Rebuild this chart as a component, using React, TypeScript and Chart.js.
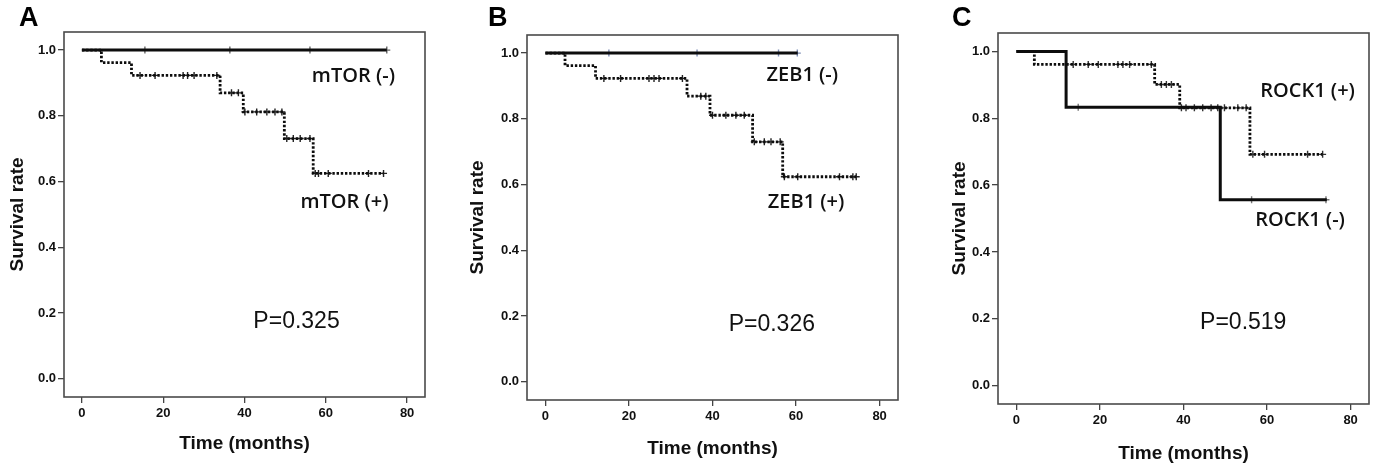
import React, { useEffect, useRef } from 'react';
import { Chart, registerables } from 'chart.js';

Chart.register(...registerables);

const timeTicks = [0, 20, 40, 60, 80];
const rateTicks = [0, 0.2, 0.4, 0.6, 0.8, 1.0];

// A: mTOR
const mtorNegTimes = [0, 75.0];
const mtorNegRates = [1, 1];
const mtorNegCensored = [15.5, 36.4, 56.1, 75.0];
const mtorPosTimes = [0, 4.8, 12.2, 34.0, 39.7, 49.8, 56.9, 74.2];
const mtorPosRates = [1, 0.962, 0.923, 0.87, 0.812, 0.731, 0.625, 0.625];
const mtorPosCensored = [14.3, 18.0, 24.9, 26.0, 27.6, 33.2, 36.8, 38.5, 40.1, 43.0, 45.5, 47.5, 49.2,
  50.4, 52.0, 53.7, 56.1, 57.4, 58.2, 60.6, 70.5, 74.2];

// B: ZEB1
const zebNegTimes = [0, 60.4];
const zebNegRates = [1, 1];
const zebNegCensored = [15.2, 36.3, 55.8, 60.3];
const zebPosTimes = [0, 4.7, 12.0, 33.9, 39.4, 49.6, 56.8, 74.4];
const zebPosRates = [1, 0.962, 0.923, 0.869, 0.811, 0.73, 0.624, 0.624];
const zebPosCensored = [14.0, 18.0, 24.8, 26.0, 27.2, 32.8, 37.2, 38.4, 40.0, 43.2, 45.6, 47.6,
  50.0, 52.4, 54.0, 56.2, 57.2, 60.4, 70.4, 73.6, 74.4];

// C: ROCK1
const rockNegTimes = [0, 11.9, 48.8, 74.3];
const rockNegRates = [1, 0.833, 0.556, 0.556];
const rockNegCensored = [14.8, 56.3, 74.1];
const rockPosTimes = [0, 4.3, 33.1, 39.1, 55.9, 73.3];
const rockPosRates = [1, 0.961, 0.901, 0.831, 0.692, 0.692];
const rockPosCensored = [13.6, 17.2, 19.6, 24.3, 25.5, 27.1, 32.3, 34.7, 35.9, 37.1, 39.5, 40.6,
  42.6, 44.6, 46.6, 48.2, 49.8, 53.0, 55.0, 56.6, 59.4, 69.7, 73.3];

const LABEL_FONT = '600 20px "Open Sans", "Noto Sans CJK KR", sans-serif';
const P_FONT = '23px Arial, "Liberation Sans", sans-serif';

// survival level at time t from a step curve
function levelAt(times: number[], rates: number[], t: number) {
  let s = rates[0];
  for (let i = 0; i < times.length; i++) {
    if (times[i] <= t) s = rates[i];
  }
  return s;
}

function curve(times: number[], rates: number[], dotted: boolean) {
  return {
    data: times.map((t, i) => ({ x: t, y: rates[i] })),
    showLine: true,
    stepped: 'before',
    borderColor: '#0d0d0d',
    borderWidth: dotted ? 2.8 : 3,
    borderDash: dotted ? [2.4, 1.8] : [],
    pointRadius: 0,
  };
}

function marks(times: number[], rates: number[], censored: number[], color: string) {
  return {
    data: censored.map(t => ({ x: t, y: levelAt(times, rates, t) })),
    showLine: false,
    pointStyle: 'cross',
    pointRadius: 3.5,
    borderColor: color,
    borderWidth: 1.4,
    backgroundColor: color,
  };
}

const panels = [
  {
    letter: 'A', left: 0, width: 460, letterX: 19,
    pad: { left: 6.6, right: 35, top: 32, bottom: 11.6 }, yWidth: 57.4, xHeight: 58.4,
    datasets: () => [
      curve(mtorPosTimes, mtorPosRates, true),
      curve(mtorNegTimes, mtorNegRates, false),
      marks(mtorPosTimes, mtorPosRates, mtorPosCensored, '#222'),
      marks(mtorNegTimes, mtorNegRates, mtorNegCensored, '#666'),
    ],
    notes: [
      { text: 'mTOR (-)', x: 66.8, y: 0.921, font: LABEL_FONT },
      { text: 'mTOR (+)', x: 64.6, y: 0.538, font: LABEL_FONT },
      { text: 'P=0.325', x: 52.8, y: 0.173, font: P_FONT },
    ],
  },
  {
    letter: 'B', left: 460, width: 460, letterX: 488,
    pad: { left: 6.1, right: 22, top: 35, bottom: 6.6 }, yWidth: 60.9, xHeight: 60.4,
    datasets: () => [
      curve(zebPosTimes, zebPosRates, true),
      curve(zebNegTimes, zebNegRates, false),
      marks(zebPosTimes, zebPosRates, zebPosCensored, '#222'),
      marks(zebNegTimes, zebNegRates, zebNegCensored, '#7d8db5'),
    ],
    notes: [
      { text: 'ZEB1 (-)', x: 61.5, y: 0.933, font: LABEL_FONT },
      { text: 'ZEB1 (+)', x: 62.4, y: 0.546, font: LABEL_FONT },
      { text: 'P=0.326', x: 54.2, y: 0.173, font: P_FONT },
    ],
  },
  {
    letter: 'C', left: 920, width: 458, letterX: 952,
    pad: { left: 28.1, right: 9, top: 33, bottom: 1.6 }, yWidth: 49.9, xHeight: 61.4,
    datasets: () => [
      curve(rockPosTimes, rockPosRates, true),
      curve(rockNegTimes, rockNegRates, false),
      marks(rockPosTimes, rockPosRates, rockPosCensored, '#333'),
      marks(rockNegTimes, rockNegRates, rockNegCensored, '#777'),
    ],
    notes: [
      { text: 'ROCK1 (+)', x: 69.7, y: 0.88, font: LABEL_FONT },
      { text: 'ROCK1 (-)', x: 67.9, y: 0.494, font: LABEL_FONT },
      { text: 'P=0.519', x: 54.3, y: 0.189, font: P_FONT },
    ],
  },
];

const boxAndNotes = {
  id: 'boxAndNotes',
  afterDatasetsDraw(chart: any, _args: any, opts: any) {
    const { ctx, chartArea: a, scales } = chart;
    ctx.save();
    ctx.strokeStyle = '#4a4a4a';
    ctx.lineWidth = 1.6;
    ctx.strokeRect(a.left, a.top, a.right - a.left, a.bottom - a.top);
    ctx.fillStyle = '#111';
    ctx.textAlign = 'center';
    ctx.textBaseline = 'middle';
    for (const n of opts.notes) {
      ctx.font = n.font;
      ctx.fillText(n.text, scales.x.getPixelForValue(n.x), scales.y.getPixelForValue(n.y));
    }
    ctx.restore();
  },
};

const tickFont = { family: 'Arial, "Liberation Sans", sans-serif', size: 13, weight: 'bold' as const };
const titleFont = { family: 'Arial, "Liberation Sans", sans-serif', size: 19, weight: 'bold' as const };

function Panel({ p }: { p: typeof panels[number] }) {
  const canvasRef = useRef<HTMLCanvasElement>(null);

  useEffect(() => {
    if (!canvasRef.current) return;
    const chart = new Chart(canvasRef.current, {
      type: 'scatter',
      data: { datasets: p.datasets() as any },
      plugins: [boxAndNotes],
      options: {
        responsive: false,
        animation: false,
        layout: { padding: p.pad },
        plugins: {
          legend: { display: false },
          tooltip: { enabled: false },
          boxAndNotes: { notes: p.notes },
        } as any,
        scales: {
          x: {
            type: 'linear',
            min: -4.4,
            max: 84.4,
            afterBuildTicks: (s: any) => { s.ticks = timeTicks.map(v => ({ value: v })); },
            afterFit: (s: any) => { s.height = p.xHeight; },
            ticks: { font: tickFont, color: '#111', padding: 3, maxRotation: 0 },
            grid: { drawOnChartArea: false, drawTicks: true, tickLength: 6, color: '#444', lineWidth: 1.3 },
            border: { display: false },
            title: { display: true, text: 'Time (months)', font: titleFont, color: '#111', padding: 0 },
          },
          y: {
            type: 'linear',
            min: -0.055,
            max: 1.055,
            afterBuildTicks: (s: any) => { s.ticks = rateTicks.map(v => ({ value: v })); },
            afterFit: (s: any) => { s.width = p.yWidth; },
            ticks: { font: tickFont, color: '#111', padding: 2, callback: (v: any) => Number(v).toFixed(1) },
            grid: { drawOnChartArea: false, drawTicks: true, tickLength: 6, color: '#444', lineWidth: 1.3 },
            border: { display: false },
            title: { display: true, text: 'Survival rate', font: titleFont, color: '#111', padding: 0 },
          },
        },
      } as any,
    });
    return () => chart.destroy();
  }, [p]);

  return (
    <>
      <canvas
        ref={canvasRef}
        width={p.width}
        height={467}
        style={{ position: 'absolute', left: p.left, top: 0, width: p.width, height: 467 }}
      />
      <div
        style={{
          position: 'absolute', left: p.letterX, top: 2,
          font: 'bold 27px Arial, "Liberation Sans", sans-serif', lineHeight: '30px', color: '#000',
        }}
      >
        {p.letter}
      </div>
    </>
  );
}

export default function App() {
  useEffect(() => {
    document.body.style.margin = '0';
    document.body.style.background = '#fff';
  }, []);

  return (
    <div style={{ position: 'relative', width: 1378, height: 467, background: '#fff', overflow: 'hidden' }}>
      {panels.map(p => <Panel key={p.letter} p={p} />)}
    </div>
  );
}
